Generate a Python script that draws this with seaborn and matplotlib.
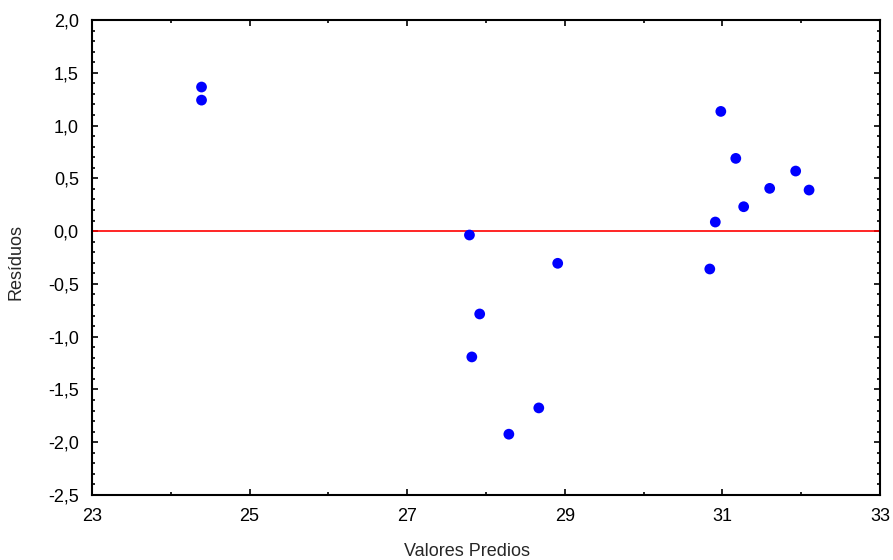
import matplotlib
matplotlib.use("Agg")
import matplotlib.pyplot as plt
import seaborn as sns
import pandas as pd
from matplotlib.ticker import MultipleLocator, FixedLocator

predicted = [24.39, 24.39, 27.79, 28.91, 27.92, 27.82, 28.67, 28.29,
             30.98, 31.17, 31.93, 31.60, 32.10, 31.27, 30.91, 30.84]
residuals = [1.365, 1.241, -0.037, -0.305, -0.785, -1.192, -1.675, -1.924,
             1.134, 0.689, 0.569, 0.405, 0.389, 0.231, 0.086, -0.359]

x_ticks = [23, 25, 27, 29, 31, 33]
x_tick_labels = ["23", "25", "27", "29", "31", "33"]
y_ticks = [-2.5, -2.0, -1.5, -1.0, -0.5, 0.0, 0.5, 1.0, 1.5, 2.0]
y_tick_labels = ["-2,5", "-2,0", "-1,5", "-1,0", "-0,5", "0,0", "0,5", "1,0", "1,5", "2,0"]

df = pd.DataFrame({"Valores Predios": predicted, "Resíduos": residuals})

sns.set_style("ticks")
plt.rcParams['font.family'] = ['Liberation Sans', 'DejaVu Sans']

fig = plt.figure(figsize=(8.93, 5.6), dpi=100)
ax = fig.add_axes([92/893, 1 - 495/560, 788/893, 475/560])

sns.scatterplot(data=df, x="Valores Predios", y="Resíduos", ax=ax,
                color="#0000ff", edgecolor="none", s=60, zorder=3)
ax.axhline(0, color="#ff0000", lw=1.2, zorder=2)

ax.set_xlim(23, 33)
ax.set_ylim(-2.5, 2.0)
ax.xaxis.set_major_locator(FixedLocator(x_ticks))
ax.set_xticklabels(x_tick_labels)
ax.xaxis.set_minor_locator(MultipleLocator(1))
ax.yaxis.set_major_locator(FixedLocator(y_ticks))
ax.set_yticklabels(y_tick_labels)
ax.yaxis.set_minor_locator(MultipleLocator(0.1))

ax.tick_params(which="both", direction="in", top=True, right=True,
               colors="black", width=1.2)
ax.tick_params(which="major", length=4, labelsize=13)
ax.tick_params(axis="y", which="major", pad=9.5)
ax.tick_params(axis="x", which="major", pad=9.5)
ax.tick_params(which="minor", length=2.5)

for sp in ax.spines.values():
    sp.set_visible(True)
    sp.set_linewidth(1.5)
    sp.set_color("black")

ax.set_xlabel("Valores Predios", fontsize=13)
ax.set_ylabel("Resíduos", fontsize=13)
ax.xaxis.set_label_coords((466.7 - 92) / 788, (495 - 543) / 475)
ax.yaxis.set_label_coords((25 - 92) / 788, (495 - 262) / 475)

fig.savefig("out.png", dpi=100)
